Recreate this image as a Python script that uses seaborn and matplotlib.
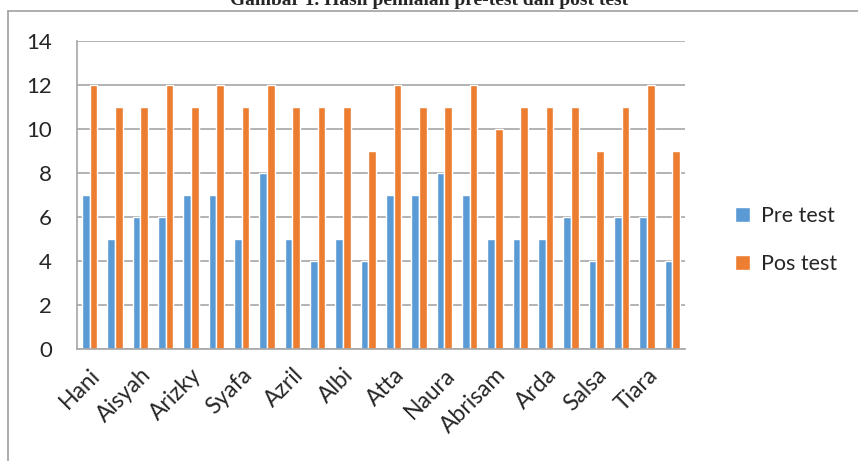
import matplotlib
matplotlib.use("Agg")
import matplotlib.pyplot as plt
import seaborn as sns
import pandas as pd
from matplotlib.lines import Line2D

tick_labels = ["Hani", "", "Aisyah", "", "Arizky", "", "Syafa", "", "Azril", "", "Albi", "",
               "Atta", "", "Naura", "", "Abrisam", "", "Arda", "", "Salsa", "", "Tiara", ""]
pre_test = [7, 5, 6, 6, 7, 7, 5, 8, 5, 4, 5, 4, 7, 7, 8, 7, 5, 5, 5, 6, 4, 6, 6, 4]
pos_test = [12, 11, 11, 12, 11, 12, 11, 12, 11, 11, 11, 9, 12, 11, 11, 12, 10, 11, 11, 11, 9, 11, 12, 9]
series_names = ["Pre test", "Pos test"]
colors = ["#5B9BD5", "#ED7D31"]
title = "Gambar 1. Hasil penilaian pre-test dan post test"

n = len(pre_test)
df = pd.DataFrame({
    "idx": list(range(n)) * 2,
    "value": pre_test + pos_test,
    "series": [series_names[0]] * n + [series_names[1]] * n,
})

sns.set_theme(style="white")
plt.rcParams["font.family"] = ["Lato", "DejaVu Sans"]

fig = plt.figure(figsize=(8.58, 4.61), dpi=100)
ax = fig.add_axes([77 / 858, 1 - 349 / 461, (685 - 77) / 858, (349 - 41) / 461])

sns.barplot(data=df, x="idx", y="value", hue="series", palette=colors, width=0.6,
            ax=ax, saturation=1, legend=True)

grid_c = "#A6A6A6"
fs = 16
ax.set_ylim(0, 14)
ax.set_yticks(range(0, 15, 2))
ax.set_xlim(-0.5, n - 0.5)
ax.yaxis.grid(True, color=grid_c, linewidth=1.2)
ax.set_axisbelow(True)
for s in ["top", "right"]:
    ax.spines[s].set_visible(False)
for s in ["left", "bottom"]:
    ax.spines[s].set_color(grid_c)
    ax.spines[s].set_linewidth(1.2)

ax.set_xticks(range(n))
ax.set_xticklabels(tick_labels, rotation=45, ha="right", rotation_mode="anchor", fontsize=16.5)
ax.set_xticks([i - 0.5 for i in range(n + 1)], minor=True)
ax.tick_params(axis="x", which="major", length=0, pad=11)
ax.tick_params(axis="x", which="minor", length=6, color=grid_c, width=1.2)
ax.tick_params(axis="y", length=8, color=grid_c, width=1.2, labelsize=fs, pad=10)
ax.set_xlabel("")
ax.set_ylabel("")

leg = ax.legend(loc="center left", bbox_to_anchor=(716 / 858, 1 - 240 / 461),
                bbox_transform=fig.transFigure, frameon=False, fontsize=15.5,
                handlelength=0.7, handleheight=0.7, labelspacing=1.3, handletextpad=0.5)

fig.add_artist(Line2D([8 / 858, 8 / 858], [0, 1 - 11 / 461], transform=fig.transFigure,
                      color="#A0A0A0", linewidth=1.2))
fig.add_artist(Line2D([8 / 858, 1], [1 - 11 / 461, 1 - 11 / 461], transform=fig.transFigure,
                      color="#A0A0A0", linewidth=1.2))

fig.text(0.5, 1 - 5 / 461, title, ha="center", va="baseline", fontsize=14,
         fontweight="bold", family="Liberation Serif")

fig.savefig("out.png", dpi=100)
